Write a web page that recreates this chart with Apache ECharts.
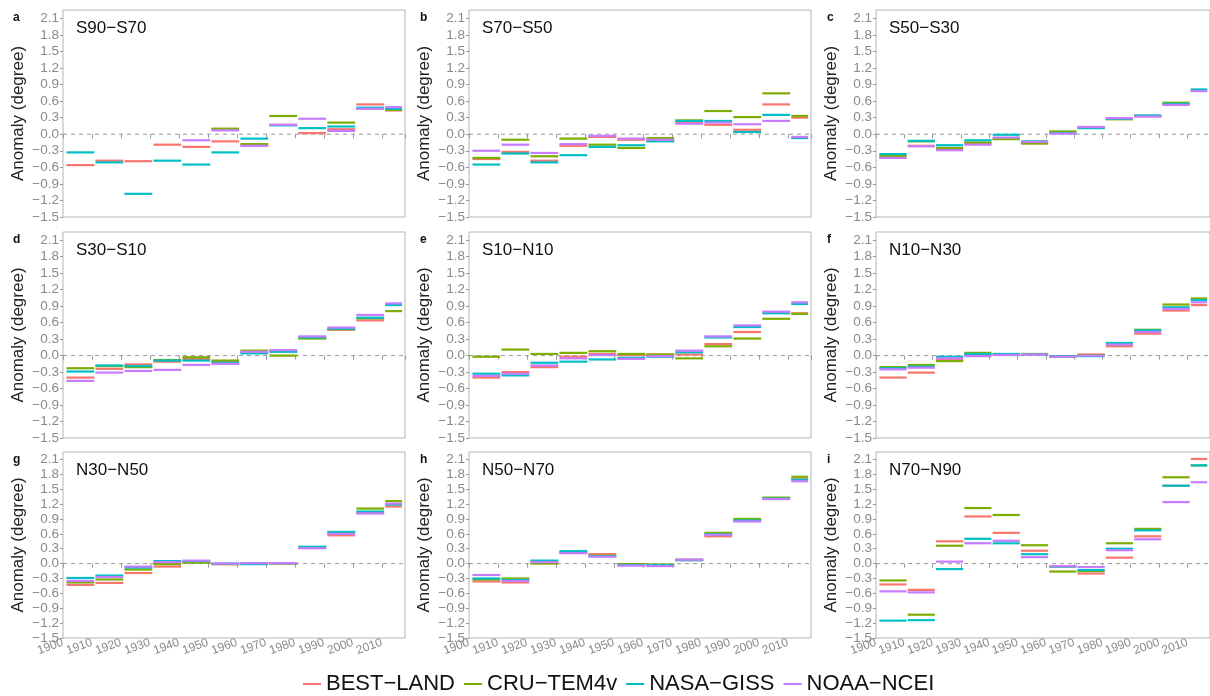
<!DOCTYPE html>
<html>
<head>
<meta charset="utf-8">
<script src="https://cdn.jsdelivr.net/npm/echarts@6/dist/echarts.min.js"></script>
<style>
  html, body { margin: 0; padding: 0; background: #fff; }
  #main { width: 1210px; height: 696px; }
</style>
</head>
<body>
<div id="main"></div>
<script>
// decades and datasets
var decades = [1900, 1910, 1920, 1930, 1940, 1950, 1960, 1970, 1980, 1990, 2000, 2010];
var datasets = ['BEST−LAND', 'CRU−TEM4v', 'NASA−GISS', 'NOAA−NCEI'];
var colors = ['#F8766D', '#7CAE00', '#00BFC4', '#C77CFF'];
var regions = ['S90−S70', 'S70−S50', 'S50−S30', 'S30−S10', 'S10−N10', 'N10−N30', 'N30−N50', 'N50−N70', 'N70−N90'];
var letters = ['a', 'b', 'c', 'd', 'e', 'f', 'g', 'h', 'i'];

// rows: BEST-LAND, CRU-TEM4v, NASA-GISS, NOAA-NCEI  (null = no data)
var panelA = [
    [-0.56, -0.48, -0.49, -0.19, -0.23, -0.13, -0.20, 0.17, 0.02, 0.09, 0.54, 0.43],
    [null, null, null, null, null, 0.10, -0.18, 0.33, null, 0.21, 0.46, 0.44],
    [-0.33, -0.51, -1.08, -0.48, -0.55, -0.33, -0.08, 0.16, 0.11, 0.14, 0.48, 0.46],
    [null, null, null, null, -0.11, 0.07, -0.21, 0.17, 0.28, 0.06, 0.46, 0.49]
];
var panelB = [
    [-0.45, -0.32, -0.48, -0.21, -0.05, -0.10, -0.12, 0.21, 0.17, 0.08, 0.54, 0.30],
    [-0.43, -0.10, -0.40, -0.08, -0.19, -0.25, -0.07, 0.25, 0.42, 0.31, 0.74, 0.33],
    [-0.55, -0.35, -0.51, -0.38, -0.23, -0.20, -0.13, 0.24, 0.24, 0.04, 0.35, -0.07],
    [-0.30, -0.19, -0.34, -0.18, -0.03, -0.08, -0.10, 0.19, 0.21, 0.18, 0.24, -0.05]
];
var panelC = [
    [-0.42, -0.21, -0.27, -0.17, -0.08, -0.15, 0.03, 0.13, 0.28, 0.33, 0.55, 0.80],
    [-0.39, -0.13, -0.25, -0.15, -0.09, -0.17, 0.05, 0.12, 0.27, 0.33, 0.57, 0.79],
    [-0.36, -0.12, -0.20, -0.11, -0.01, -0.13, 0.02, 0.11, 0.28, 0.34, 0.55, 0.81],
    [-0.43, -0.22, -0.29, -0.19, -0.06, -0.14, 0.01, 0.13, 0.29, 0.32, 0.53, 0.78]
];
var panelD = [
    [-0.40, -0.24, -0.16, -0.11, -0.06, -0.12, 0.06, 0.08, 0.33, 0.47, 0.64, 0.93],
    [-0.23, -0.19, -0.21, -0.08, -0.03, -0.09, 0.09, 0.00, 0.31, 0.48, 0.68, 0.81],
    [-0.29, -0.18, -0.19, -0.09, -0.09, -0.13, 0.04, 0.07, 0.33, 0.49, 0.69, 0.92],
    [-0.46, -0.31, -0.28, -0.26, -0.17, -0.15, 0.07, 0.10, 0.35, 0.51, 0.74, 0.95]
];
var panelE = [
    [-0.40, -0.30, -0.21, -0.02, 0.03, 0.01, 0.02, 0.02, 0.21, 0.43, 0.78, 0.77],
    [-0.02, 0.11, 0.03, 0.05, 0.08, 0.03, 0.02, -0.05, 0.17, 0.31, 0.67, 0.76],
    [-0.33, -0.36, -0.13, -0.11, -0.07, -0.04, -0.02, 0.06, 0.33, 0.52, 0.77, 0.94],
    [-0.37, -0.33, -0.18, -0.05, 0.01, -0.06, -0.01, 0.09, 0.35, 0.55, 0.80, 0.97]
];
var panelF = [
    [-0.40, -0.31, -0.07, 0.01, 0.02, 0.02, -0.01, 0.02, 0.17, 0.40, 0.82, 0.92],
    [-0.21, -0.17, -0.10, 0.05, 0.02, 0.03, -0.02, 0.01, 0.20, 0.47, 0.93, 1.04],
    [-0.23, -0.20, -0.02, 0.03, 0.03, 0.02, -0.01, -0.01, 0.23, 0.46, 0.88, 1.01],
    [-0.25, -0.22, -0.05, -0.01, 0.01, 0.02, -0.02, 0.00, 0.20, 0.43, 0.85, 0.97]
];
var panelG = [
    [-0.43, -0.39, -0.19, -0.06, 0.03, -0.01, 0.01, 0.01, 0.32, 0.57, 1.03, 1.15],
    [-0.38, -0.32, -0.12, -0.01, 0.02, -0.01, 0.00, 0.00, 0.33, 0.62, 1.11, 1.26],
    [-0.29, -0.24, -0.08, 0.05, 0.05, 0.00, -0.01, 0.01, 0.34, 0.64, 1.05, 1.19],
    [-0.35, -0.27, -0.06, 0.03, 0.06, 0.00, 0.01, 0.01, 0.31, 0.60, 1.01, 1.21]
];
var panelH = [
    [-0.36, -0.38, 0.02, 0.22, 0.19, -0.02, -0.04, 0.07, 0.55, 0.86, 1.32, 1.70],
    [-0.32, -0.30, 0.00, 0.23, 0.16, -0.01, -0.02, 0.08, 0.62, 0.90, 1.33, 1.75],
    [-0.30, -0.33, 0.06, 0.25, 0.15, -0.03, -0.03, 0.07, 0.59, 0.87, 1.31, 1.69],
    [-0.23, -0.35, 0.03, 0.21, 0.14, -0.04, -0.05, 0.08, 0.58, 0.85, 1.30, 1.66]
];
var panelI = [
    [-0.42, -0.53, 0.45, 0.95, 0.62, 0.26, -0.06, -0.20, 0.12, 0.55, 1.57, 2.11],
    [-0.34, -1.03, 0.36, 1.12, 0.98, 0.37, -0.16, -0.15, 0.41, 0.70, 1.74, 1.98],
    [-1.15, -1.14, -0.11, 0.50, 0.41, 0.19, -0.06, -0.13, 0.30, 0.67, 1.57, 1.98],
    [-0.56, -0.58, 0.04, 0.41, 0.46, 0.13, -0.05, -0.07, 0.27, 0.49, 1.24, 1.64]
];
var panels = [panelA, panelB, panelC, panelD, panelE, panelF, panelG, panelH, panelI];

var colLeft = [63, 469, 876];
var rowTop = [10, 232, 452];
var rowHeight = [207, 206, 186];
var plotWidth = 342;
var fontFam = "'Liberation Sans', Arial, sans-serif";

function fmtY(v) {
    if (Math.abs(v) < 1e-9) v = 0;
    return v.toFixed(1).replace('-', '−');
}

// one horizontal segment per decade
function renderSeg(params, api) {
    var d = api.value(0), v = api.value(1);
    if (isNaN(v)) return null;
    var p0 = api.coord([d + 1.2, v]);
    var p1 = api.coord([Math.min(d + 10.8, 2017), v]);
    return {
        type: 'line',
        shape: { x1: p0[0], y1: p0[1], x2: p1[0], y2: p1[1] },
        style: { stroke: api.visual('color'), lineWidth: 2.2 }
    };
}

var grids = [], xAxes = [], yAxes = [], series = [], titles = [];
for (var p = 0; p < 9; p++) {
    var r = Math.floor(p / 3), c = p % 3;
    var gTop = rowTop[r], gLeft = colLeft[c];
    grids.push({
        left: gLeft, top: gTop, width: plotWidth, height: rowHeight[r],
        show: true, borderColor: '#b5b5b5', borderWidth: 1, backgroundColor: '#fff'
    });
    xAxes.push({
        gridIndex: p, type: 'value', min: 1900, max: 2018, interval: 10,
        axisLine: { show: false },
        axisTick: { show: true, length: 4, lineStyle: { color: '#999' } },
        splitLine: { show: false },
        axisLabel: {
            show: r === 2, rotate: 20, color: '#8a8a8a', fontSize: 12, fontFamily: fontFam,
            margin: 4, showMinLabel: true, showMaxLabel: false, hideOverlap: false,
            formatter: function (v) { return v > 2010 ? '' : String(v); }
        }
    });
    yAxes.push({
        gridIndex: p, type: 'value', min: -1.5, max: 2.25, interval: 0.3,
        name: 'Anomaly (degree)', nameLocation: 'middle', nameGap: 36,
        nameTextStyle: { color: '#222', fontSize: 17, fontFamily: fontFam },
        axisLine: { show: false },
        axisTick: { show: true, length: 3, lineStyle: { color: '#999' } },
        splitLine: { show: false },
        axisLabel: {
            color: '#8a8a8a', fontSize: 13.5, fontFamily: fontFam, margin: 4,
            showMaxLabel: false,
            formatter: function (v) { return fmtY(v); }
        }
    });
    titles.push({
        text: regions[p], left: gLeft + 8, top: gTop + 5,
        textStyle: { color: '#111', fontSize: 17, fontWeight: 'normal', fontFamily: fontFam }
    });
    titles.push({
        text: letters[p], left: c === 0 ? 8 : gLeft - 54, top: gTop - 3,
        textStyle: { color: '#111', fontSize: 12, fontWeight: 'bold', fontFamily: fontFam }
    });
    // zero reference line
    series.push({
        type: 'line', xAxisIndex: p, yAxisIndex: p, silent: true, symbol: 'none',
        data: [[1900, 0], [2018, 0]],
        lineStyle: { color: '#999', width: 1, type: [4, 4] }, z: 1
    });
    for (var k = 0; k < 4; k++) {
        var vals = panels[p][k];
        var pts = [];
        for (var j = 0; j < decades.length; j++) {
            if (vals[j] !== null) pts.push([decades[j], vals[j]]);
        }
        series.push({
            type: 'custom', name: datasets[k], xAxisIndex: p, yAxisIndex: p,
            renderItem: renderSeg, clip: true,
            itemStyle: { color: colors[k] },
            data: pts, z: 2 + k
        });
    }
}

var myChart = echarts.init(document.getElementById('main'));
var option = {
    animation: false,
    title: titles,
    grid: grids,
    xAxis: xAxes,
    yAxis: yAxes,
    legend: {
        data: datasets, left: 298, top: 668,
        icon: 'rect', itemWidth: 18, itemHeight: 2, itemGap: 9,
        textStyle: { color: '#111', fontSize: 22, fontFamily: fontFam }
    },
    series: series
};
myChart.setOption(option);
</script>
</body>
</html>
